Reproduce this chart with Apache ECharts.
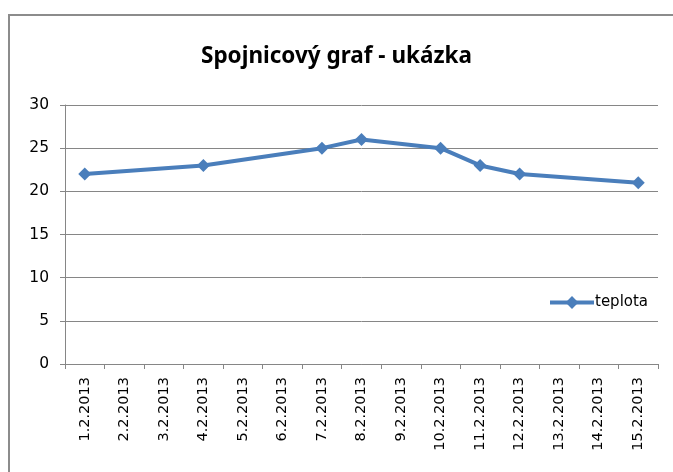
<!DOCTYPE html>
<html>
<head>
<meta charset="utf-8">
<script src="https://cdn.jsdelivr.net/npm/echarts@6/dist/echarts.min.js"></script>
<style>
  html, body { margin: 0; padding: 0; background: #fff; }
  #chart { width: 673px; height: 472px; }
</style>
</head>
<body>
<div id="chart"></div>
<script>
// dny (kategorie osy x)
var days = ['1.2.2013', '2.2.2013', '3.2.2013', '4.2.2013', '5.2.2013', '6.2.2013', '7.2.2013',
  '8.2.2013', '9.2.2013', '10.2.2013', '11.2.2013', '12.2.2013', '13.2.2013', '14.2.2013', '15.2.2013']
// teplota - jen pro dny, kdy se merilo
var teplota = [22, null, null, 23, null, null, 25, 26, null, 25, 23, 22, null, null, 21]
var yTicks = [0, 5, 10, 15, 20, 25, 30]

var chart = echarts.init(document.getElementById('chart'))
chart.setOption({
  animation: false,
  backgroundColor: '#fff',
  graphic: [{
    type: 'rect',
    shape: { x: 9, y: 15, width: 700, height: 500 },
    style: { fill: 'none', stroke: '#8c8c8c', lineWidth: 2 },
    z: -1
  }],
  title: {
    text: 'Spojnicový graf - ukázka',
    left: 'center',
    top: 45,
    textStyle: {
      fontFamily: 'Noto Sans',
      fontWeight: 'bold',
      fontSize: 22.5,
      color: '#000'
    },
    padding: 0
  },
  grid: {
    left: 65,
    right: 15,
    top: 105,
    bottom: 108,
    containLabel: false
  },
  legend: {
    data: ['teplota'],
    left: 543,
    top: 290,
    itemWidth: 44,
    itemHeight: 16,
    itemGap: 2,
    lineStyle: { width: 4 },
    textStyle: { fontFamily: 'DejaVu Sans', fontSize: 15, color: '#000', padding: [0, 0, 0, -4] }
  },
  xAxis: {
    type: 'category',
    data: days,
    boundaryGap: true,
    axisLine: { lineStyle: { color: '#868686', width: 1 } },
    axisTick: { show: true, alignWithLabel: false, length: 5, lineStyle: { color: '#868686' } },
    axisLabel: {
      interval: 0,
      rotate: 90,
      margin: 13,
      fontFamily: 'DejaVu Sans',
      fontSize: 14.5,
      color: '#000'
    },
    splitLine: { show: false }
  },
  yAxis: {
    type: 'value',
    min: yTicks[0],
    max: yTicks[yTicks.length - 1],
    interval: 5,
    axisLine: { show: true, lineStyle: { color: '#868686', width: 1 } },
    axisTick: { show: true, length: 5, lineStyle: { color: '#868686' } },
    axisLabel: {
      margin: 16,
      fontFamily: 'DejaVu Sans',
      fontSize: 15.5,
      color: '#000'
    },
    splitLine: { show: true, lineStyle: { color: '#868686', width: 1 } }
  },
  series: [{
    name: 'teplota',
    type: 'line',
    data: teplota,
    connectNulls: true,
    symbol: 'diamond',
    symbolSize: 13,
    color: '#4a7ebb',
    lineStyle: { color: '#4a7ebb', width: 4 },
    itemStyle: { color: '#4a7ebb' }
  }]
})
</script>
</body>
</html>
